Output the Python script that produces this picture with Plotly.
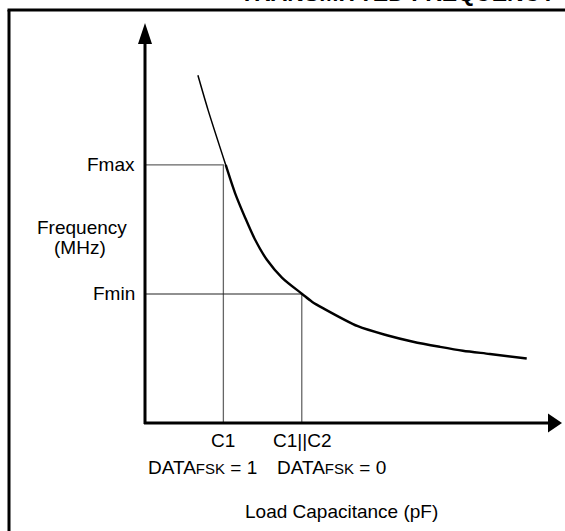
import plotly.graph_objects as go

# ---- data (arbitrary units) ----
cap_x = [1.35, 1.61, 2.06, 2.30, 2.55, 2.81, 3.11, 3.50, 4.01, 4.26, 4.54, 5.43, 6.17, 6.84, 7.53, 8.11, 8.80, 9.74]
freq_y = [5.39, 4.85, 4.00, 3.56, 3.19, 2.84, 2.53, 2.25, 2.00, 1.88, 1.78, 1.50, 1.36, 1.26, 1.18, 1.12, 1.07, 1.00]
C1 = 2.0
C1C2 = 4.0
FMAX = 4.0
FMIN = 2.0
X_MAX = 10.64
Y_MAX = 6.2

W, H = 565, 531
ML, MR, MT, MB = 145, 3, 23, 108
PW = W - ML - MR
PH = H - MT - MB

def px(xp):
    return (xp - ML) / PW

def py(yp):
    return (H - MB - yp) / PH

FONT = "Liberation Sans, Arial, sans-serif"
GRAY = "#666666"

fig = go.Figure()

# drop lines
fig.add_trace(go.Scatter(x=[0, C1, C1], y=[FMAX, FMAX, 0], mode="lines",
                         line=dict(color=GRAY, width=1.3), hoverinfo="skip"))
fig.add_trace(go.Scatter(x=[0, C1C2], y=[FMIN, FMIN], mode="lines",
                         line=dict(color="#222222", width=1.1), hoverinfo="skip"))
fig.add_trace(go.Scatter(x=[C1C2, C1C2], y=[FMIN, 0], mode="lines",
                         line=dict(color=GRAY, width=1.3), hoverinfo="skip"))

# curve (thin upper part, thicker lower part)
fig.add_trace(go.Scatter(x=cap_x[:3], y=freq_y[:3], mode="lines",
                         line=dict(color="black", width=1.5, shape="spline", smoothing=0.8),
                         hoverinfo="skip"))
fig.add_trace(go.Scatter(x=cap_x[2:], y=freq_y[2:], mode="lines",
                         line=dict(color="black", width=2.4, shape="spline", smoothing=0.8),
                         hoverinfo="skip"))

shapes = []
# axes lines (paper coordinates: origin = (0,0), tips = 1)
shapes.append(dict(type="line", xref="paper", yref="paper", x0=0, y0=py(424), x1=0, y1=py(38),
                   line=dict(color="black", width=3)))
shapes.append(dict(type="line", xref="paper", yref="paper", x0=px(144), y0=0, x1=px(552), y1=0,
                   line=dict(color="black", width=3)))
# arrow heads
shapes.append(dict(type="path", xref="paper", yref="paper",
                   path=f"M {px(138)} {py(44)} L 0 {py(23)} L {px(152)} {py(44)} Z",
                   fillcolor="black", line=dict(color="black", width=0)))
shapes.append(dict(type="path", xref="paper", yref="paper",
                   path=f"M {px(548)} {py(413.5)} L {px(562)} 0 L {px(548)} {py(432.5)} Z",
                   fillcolor="black", line=dict(color="black", width=0)))
# outer frame (top and left)
shapes.append(dict(type="line", xref="paper", yref="paper", x0=px(7.5), x1=px(570), y0=py(10), y1=py(10),
                   line=dict(color="black", width=3)))
shapes.append(dict(type="line", xref="paper", yref="paper", x0=px(9), x1=px(9), y0=py(10), y1=py(540),
                   line=dict(color="black", width=3)))

tf = dict(family=FONT, size=19, color="black")
ann = []
ann.append(dict(text="<b>TRANSMITTED FREQUENCY</b>", xref="paper", yref="paper", x=px(558), y=py(8),
                xanchor="right", yanchor="bottom", showarrow=False,
                font=dict(family=FONT, size=23, color="black")))
ann.append(dict(text="Fmax", xref="x", yref="y", x=0, y=FMAX, xshift=-8, xanchor="right",
                yanchor="middle", showarrow=False, font=tf))
ann.append(dict(text="Fmin", xref="x", yref="y", x=0, y=FMIN, xshift=-8, xanchor="right",
                yanchor="middle", showarrow=False, font=tf))
ann.append(dict(text="Frequency", xref="paper", yref="paper", x=px(82), y=py(227), xanchor="center",
                yanchor="middle", showarrow=False, font=tf))
ann.append(dict(text="(MHz)", xref="paper", yref="paper", x=px(80), y=py(247), xanchor="center",
                yanchor="middle", showarrow=False, font=tf))
ann.append(dict(text="C1", xref="x", yref="paper", x=C1, y=py(440), xanchor="center",
                yanchor="middle", showarrow=False, font=tf))
ann.append(dict(text="C1||C2", xref="x", yref="paper", x=C1C2, y=py(440), xanchor="center",
                yanchor="middle", showarrow=False, font=tf))
ann.append(dict(text="DATA<span style='font-size:15px'>FSK</span> = 1", xref="paper", yref="paper",
                x=px(146), y=py(467), xanchor="left", yanchor="middle", showarrow=False, font=tf))
ann.append(dict(text="DATA<span style='font-size:15px'>FSK</span> = 0", xref="paper", yref="paper",
                x=px(275), y=py(467), xanchor="left", yanchor="middle", showarrow=False, font=tf))
ann.append(dict(text="Load Capacitance (pF)", xref="paper", yref="paper", x=px(341), y=py(512),
                xanchor="center", yanchor="middle", showarrow=False, font=tf))

fig.update_layout(
    width=W, height=H,
    margin=dict(l=ML, r=MR, t=MT, b=MB, pad=0),
    paper_bgcolor="white", plot_bgcolor="white",
    showlegend=False,
    xaxis=dict(range=[0, X_MAX], visible=False, fixedrange=True),
    yaxis=dict(range=[0, Y_MAX], visible=False, fixedrange=True),
    shapes=shapes, annotations=ann,
)

fig.write_html("out.html", config={"displayModeBar": False},
               post_script="document.body.style.margin='0';document.body.style.overflow='hidden';")
